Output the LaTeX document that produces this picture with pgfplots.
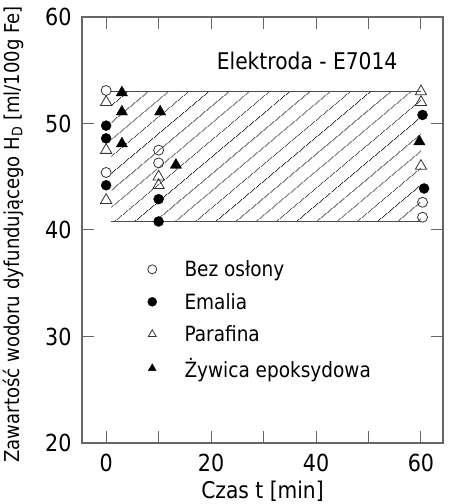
\documentclass[border=0pt]{standalone}
\usepackage{fontspec}
\setmainfont{DejaVu Sans}[FakeStretch=0.88]
\usepackage{pgfplots}
\pgfplotsset{compat=1.18}
\usetikzlibrary{patterns.meta}
\begin{document}
\begin{tikzpicture}
\begin{axis}[
 name=ax,
 scale only axis, width=361pt, height=426pt,
 xmin=-4.6, xmax=64.2, ymin=20, ymax=60,
 xtick={0,10,...,60}, xticklabels={0,,20,,40,,60},
 ytick={20,30,...,60},
 tick align=inside, major tick length=12pt,
 axis line style={draw=gray!80!black, line width=1.2pt},
 every tick/.style={gray!80!black, line width=1pt},
 tick label style={font=\fontsize{23.5}{26}\selectfont},
 xticklabel style={yshift=-8pt},
 yticklabel style={xshift=-7pt},
 xlabel={Czas t [min]},
 ylabel={Zawartość wodoru dyfundującego H\textsubscript{D} [ml/100g Fe]},
 every axis x label/.style={at={([yshift=-48pt]axis description cs:0.5,0)}, anchor=center, font=\fontsize{23}{25}\selectfont},
 every axis y label/.style={at={([xshift=-69pt]axis description cs:0,0.49)}, rotate=90, anchor=center, font=\fontsize{20.5}{22}\selectfont},
 /pgf/number format/assume math mode=true,
 legend style={draw=none, fill=none, at={(0.161,0.438)}, anchor=north west,
   font=\fontsize{21}{24}\selectfont, row sep=11pt},
 legend cell align=left,
 legend image code/.code={\path (-0.3cm,0) (1.05cm,0); \draw[#1, mark size=4.5pt] plot coordinates {(0cm,0cm)};},
]
\addplot[draw=none, forget plot, pattern={Lines[angle=40,distance=13pt,line width=0.8pt]}, pattern color=black!80]
  coordinates {(1,40.8) (60,40.8) (60,53) (1,53)} -- cycle;
\addplot[forget plot, black!70, line width=0.9pt] coordinates {(1,53) (60,53)};
\addplot[forget plot, black!70, line width=0.9pt] coordinates {(1,40.8) (60,40.8)};

\addplot[only marks, mark=o, mark size=5pt, black!80, line width=0.8pt]
  coordinates {(0,53.1) (0,45.4) (10,47.5) (10,46.3) (60.3,42.6) (60.3,41.2)};
\addlegendentry{Bez osłony}
\addplot[only marks, mark=*, mark size=5pt, black]
  coordinates {(0,49.8) (0,48.6) (0,44.2) (10,42.9) (10,40.8) (60.3,50.8) (60.6,43.9)};
\addlegendentry{Emalia}
\addplot[only marks, mark=triangle, mark size=6.5pt, black!80, line width=0.8pt]
  coordinates {(0,52.0) (0,47.5) (0,42.8) (10,45.0) (10,44.2) (60,53.0) (60,52.0) (60,46.0)};
\addlegendentry{Parafina}
\addplot[only marks, mark=triangle*, mark size=6.5pt, black]
  coordinates {(3,52.9) (3,51.1) (3,48.1) (10.3,51.1) (13.3,46.1) (59.7,48.3)};
\addlegendentry{Żywica epoksydowa}

\node[font=\fontsize{23}{25}\selectfont] at (axis cs:38.3,55.9) {Elektroda - E7014};
\end{axis}
\pgfresetboundingbox
\path ([xshift=-82pt,yshift=-61pt]ax.south west) rectangle ([xshift=7pt,yshift=17pt]ax.north east);
\end{tikzpicture}
\end{document}
